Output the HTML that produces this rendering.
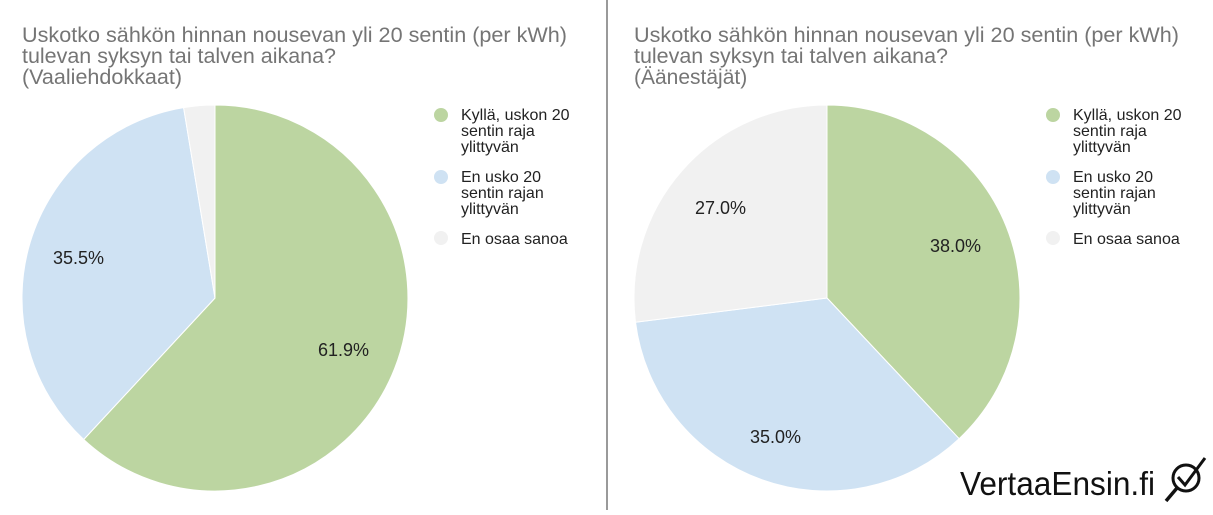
<!DOCTYPE html>
<html><head><meta charset="utf-8"><style>
body{margin:0;background:#fff;width:1213px;height:510px;overflow:hidden;font-family:"Liberation Sans",Arial,sans-serif}
</style></head><body>
<svg width="1213" height="510" xmlns="http://www.w3.org/2000/svg" font-family="Liberation Sans, Arial, sans-serif">
<rect width="1213" height="510" fill="#fff"/>
<line x1="607" y1="0" x2="607" y2="510" stroke="#9a9a9a" stroke-width="2"/>
<g fill="#757575" font-size="21">
<text x="22" y="42" textLength="545" lengthAdjust="spacingAndGlyphs">Uskotko sähkön hinnan nousevan yli 20 sentin (per kWh)</text>
<text x="22" y="63" textLength="314" lengthAdjust="spacingAndGlyphs">tulevan syksyn tai talven aikana?</text>
<text x="22" y="84" textLength="160" lengthAdjust="spacingAndGlyphs">(Vaaliehdokkaat)</text>
<text x="634" y="42" textLength="545" lengthAdjust="spacingAndGlyphs">Uskotko sähkön hinnan nousevan yli 20 sentin (per kWh)</text>
<text x="634" y="63" textLength="314" lengthAdjust="spacingAndGlyphs">tulevan syksyn tai talven aikana?</text>
<text x="634" y="84">(Äänestäjät)</text>
</g>
<path d="M215,298 L215,105 A193,193 0 1,1 83.7,439.5 Z" fill="#bcd5a1" stroke="#fff" stroke-width="1"/>
<path d="M215,298 L83.7,439.5 A193,193 0 0,1 183.6,107.6 Z" fill="#cfe2f3" stroke="#fff" stroke-width="1"/>
<path d="M215,298 L183.6,107.6 A193,193 0 0,1 215,105 Z" fill="#f1f1f1" stroke="#fff" stroke-width="1"/>
<g font-size="18" fill="#222">
<text x="318" y="356">61.9%</text>
<text x="53" y="264">35.5%</text>
</g>
<path d="M827,298 L827,105 A193,193 0 0,1 959.1,438.7 Z" fill="#bcd5a1" stroke="#fff" stroke-width="1"/>
<path d="M827,298 L959.1,438.7 A193,193 0 0,1 635.5,322.2 Z" fill="#cfe2f3" stroke="#fff" stroke-width="1"/>
<path d="M827,298 L635.5,322.2 A193,193 0 0,1 827,105 Z" fill="#f1f1f1" stroke="#fff" stroke-width="1"/>
<g font-size="18" fill="#222">
<text x="930" y="252">38.0%</text>
<text x="750" y="443">35.0%</text>
<text x="695" y="214">27.0%</text>
</g>
<g font-size="16" fill="#222">
<circle cx="441" cy="115" r="7" fill="#bcd5a1"/>
<text x="461" y="120">Kyllä, uskon 20</text><text x="461" y="136">sentin raja</text><text x="461" y="152">ylittyvän</text>
<circle cx="441" cy="177" r="7" fill="#cfe2f3"/>
<text x="461" y="182">En usko 20</text><text x="461" y="198">sentin rajan</text><text x="461" y="214">ylittyvän</text>
<circle cx="441" cy="238" r="7" fill="#f1f1f1"/>
<text x="461" y="244">En osaa sanoa</text>
<circle cx="1053" cy="115" r="7" fill="#bcd5a1"/>
<text x="1073" y="120">Kyllä, uskon 20</text><text x="1073" y="136">sentin raja</text><text x="1073" y="152">ylittyvän</text>
<circle cx="1053" cy="177" r="7" fill="#cfe2f3"/>
<text x="1073" y="182">En usko 20</text><text x="1073" y="198">sentin rajan</text><text x="1073" y="214">ylittyvän</text>
<circle cx="1053" cy="238" r="7" fill="#f1f1f1"/>
<text x="1073" y="244">En osaa sanoa</text>
</g>
<text x="960" y="495" font-size="33" fill="#111" textLength="195" lengthAdjust="spacingAndGlyphs">VertaaEnsin.fi</text>
<circle cx="1186" cy="478" r="13" fill="none" stroke="#111" stroke-width="3"/>
<line x1="1177" y1="488" x2="1166" y2="501" stroke="#111" stroke-width="3.5"/>
<polyline points="1178,477 1185,485 1205,458" fill="none" stroke="#111" stroke-width="3"/>
</svg>
</body></html>
